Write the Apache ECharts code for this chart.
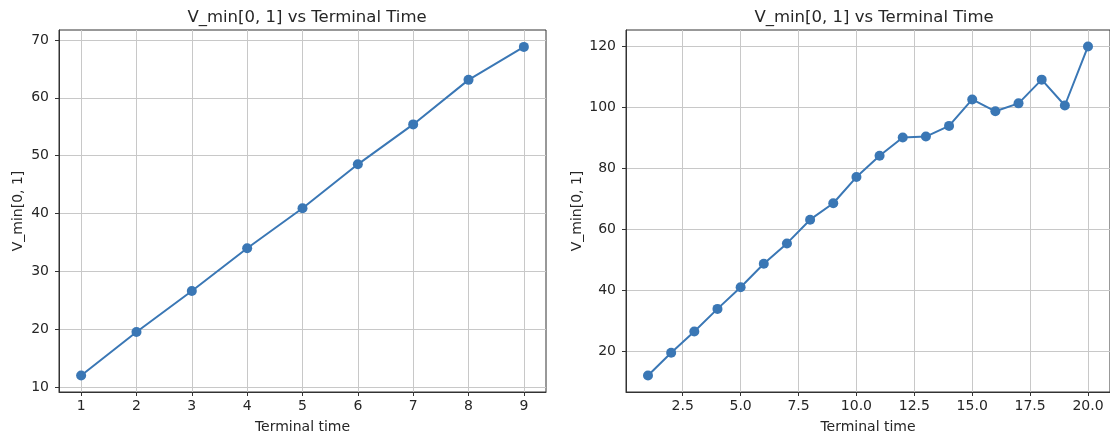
<!DOCTYPE html>
<html style="height: 100%">
<head>
    <meta charset="utf-8">
    <title>V_min vs Terminal Time</title>
    <script src="https://cdn.jsdelivr.net/npm/echarts@6/dist/echarts.min.js"></script>
</head>
<body style="height: 100%; margin: 0; background: #fff">
<div id="chart1" style="width:1110px;height:439px"></div>

<script type="text/javascript">
    // 左图数据
    var times1 = [1, 2, 3, 4, 5, 6, 7, 8, 9];
    var values1 = [12.0, 19.5, 26.6, 34.0, 40.9, 48.5, 55.4, 63.1, 68.8];

    // 右图数据
    var times2 = [1, 2, 3, 4, 5, 6, 7, 8, 9, 10, 11, 12, 13, 14, 15, 16, 17, 18, 19, 20];
    var values2 = [11.9, 19.4, 26.4, 33.8, 40.9, 48.6, 55.3, 63.1, 68.5, 77.1, 84.1, 90.1,
                   90.4, 93.9, 102.6, 98.7, 101.3, 109.1, 100.6, 120.0];

    // 刻度
    var xTicks1 = [1, 2, 3, 4, 5, 6, 7, 8, 9];
    var yTicks1 = [10, 20, 30, 40, 50, 60, 70];
    var xTicks2 = [2.5, 5.0, 7.5, 10.0, 12.5, 15.0, 17.5, 20.0];
    var yTicks2 = [20, 40, 60, 80, 100, 120];

    var titleText = 'V_min[0, 1] vs Terminal Time';
    var xName = 'Terminal time';
    var yName = 'V_min[0, 1]';
    var lineColor = '#3a77b5';
    var font = 'DejaVu Sans';

    function pairs(xs, ys) {
        return xs.map(function (x, i) { return [x, ys[i]]; });
    }

    function axis(opt) {
        return {
            type: 'value',
            gridIndex: opt.grid,
            min: opt.min,
            max: opt.max,
            name: opt.name,
            nameLocation: 'middle',
            nameGap: opt.nameGap,
            nameTextStyle: {color: '#262626', fontSize: 14, fontFamily: font},
            axisLine: {show: true, onZero: false, lineStyle: {color: '#333', width: 1}},
            axisTick: {show: true, length: 4, customValues: opt.ticks, lineStyle: {color: '#333'}},
            axisLabel: {
                customValues: opt.ticks,
                color: '#262626', fontSize: 14, fontFamily: font, margin: opt.margin,
                formatter: opt.fmt
            },
            splitLine: {show: true, lineStyle: {color: '#c8c8c8', width: 1}}
        };
    }

    var myChart1 = echarts.init(document.getElementById('chart1'), null, {renderer: 'canvas'});

    myChart1.setOption({
        animation: false,
        title: [
            {text: titleText, left: 302, top: 4, textAlign: 'center',
             textStyle: {fontSize: 16.5, fontWeight: 'normal', color: '#262626', fontFamily: font}},
            {text: titleText, left: 869, top: 4, textAlign: 'center',
             textStyle: {fontSize: 16.5, fontWeight: 'normal', color: '#262626', fontFamily: font}}
        ],
        grid: [
            {left: 59, top: 30, width: 487, height: 364, show: true, borderColor: '#333', borderWidth: 1},
            {left: 626, top: 30, width: 486, height: 364, show: true, borderColor: '#333', borderWidth: 1}
        ],
        xAxis: [
            axis({grid: 0, min: 0.6, max: 9.4, ticks: xTicks1, name: xName, nameGap: 28, margin: 7,
                  fmt: function (v) { return String(v); }}),
            axis({grid: 1, min: 0.05, max: 20.95, ticks: xTicks2, name: xName, nameGap: 28, margin: 7,
                  fmt: function (v) { return v.toFixed(1); }})
        ],
        yAxis: [
            axis({grid: 0, min: 9.14, max: 71.72, ticks: yTicks1, name: yName, nameGap: 34, margin: 10,
                  fmt: function (v) { return String(v); }}),
            axis({grid: 1, min: 6.5, max: 125.4, ticks: yTicks2, name: yName, nameGap: 42, margin: 10,
                  fmt: function (v) { return String(v); }})
        ],
        series: [
            {
                type: 'line', xAxisIndex: 0, yAxisIndex: 0,
                data: pairs(times1, values1),
                symbol: 'circle', symbolSize: 10,
                itemStyle: {color: lineColor},
                lineStyle: {color: lineColor, width: 2}
            },
            {
                type: 'line', xAxisIndex: 1, yAxisIndex: 1,
                data: pairs(times2, values2),
                symbol: 'circle', symbolSize: 10,
                itemStyle: {color: lineColor},
                lineStyle: {color: lineColor, width: 2}
            }
        ]
    });
</script>
</body>
</html>
